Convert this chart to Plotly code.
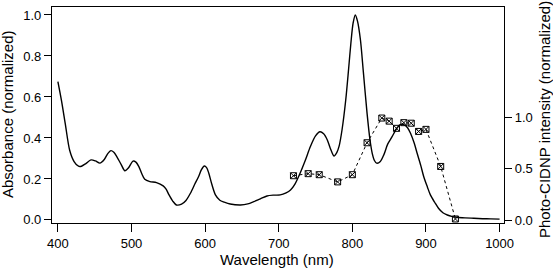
import plotly.graph_objects as go

# Absorbance spectrum (normalized)
abs_wl = [400, 405, 410, 416, 422, 428, 432, 438, 445, 451, 457, 463, 468, 472, 476, 480, 486, 491, 496, 502, 506, 510, 514, 518, 525, 534, 543, 547, 551, 556, 561, 568, 574, 580, 586, 591, 595, 599, 602, 605, 609, 614, 620, 626, 634, 648, 658, 666, 675, 684, 693, 702, 710, 716, 722, 729, 736, 743, 750, 756, 761, 766, 770, 775, 779, 782, 786, 791, 795, 798, 801, 804, 807, 811, 815, 820, 824, 827, 830, 833, 838, 843, 848, 854, 860, 865, 870, 875, 879, 884, 888, 893, 897, 902, 906, 912, 917, 923, 929, 935, 942, 953, 965, 977, 988, 1000]
abs_val = [0.675, 0.58, 0.47, 0.34, 0.285, 0.262, 0.262, 0.275, 0.293, 0.288, 0.277, 0.295, 0.325, 0.338, 0.33, 0.309, 0.27, 0.24, 0.255, 0.287, 0.282, 0.26, 0.225, 0.198, 0.187, 0.182, 0.166, 0.15, 0.122, 0.092, 0.073, 0.077, 0.095, 0.13, 0.175, 0.211, 0.245, 0.263, 0.255, 0.228, 0.175, 0.122, 0.096, 0.087, 0.078, 0.073, 0.078, 0.089, 0.103, 0.117, 0.121, 0.122, 0.132, 0.146, 0.175, 0.228, 0.29, 0.358, 0.41, 0.43, 0.42, 0.39, 0.35, 0.312, 0.33, 0.36, 0.44, 0.585, 0.74, 0.862, 0.96, 1.0, 0.97, 0.878, 0.72, 0.52, 0.39, 0.325, 0.29, 0.277, 0.285, 0.32, 0.37, 0.406, 0.445, 0.465, 0.465, 0.45, 0.423, 0.375, 0.325, 0.265, 0.211, 0.16, 0.122, 0.085, 0.057, 0.035, 0.024, 0.017, 0.013, 0.01, 0.008, 0.006, 0.005, 0.004]

# Photo-CIDNP intensity (normalized)
cidnp_wl = [720, 740, 755, 780, 800, 820, 840, 850, 860, 870, 880, 890, 900, 920, 940]
cidnp_val = [0.43, 0.45, 0.44, 0.37, 0.44, 0.75, 0.99, 0.96, 0.89, 0.945, 0.94, 0.86, 0.88, 0.52, 0.01]

x_ticks = [400, 500, 600, 700, 800, 900, 1000]
y_ticks = [0.0, 0.2, 0.4, 0.6, 0.8, 1.0]
y2_ticks = [0.0, 0.5, 1.0]

fig = go.Figure()
fig.add_trace(go.Scatter(
    x=abs_wl, y=abs_val, mode="lines",
    line=dict(color="black", width=1.4, shape="spline", smoothing=0.8),
    showlegend=False,
))
fig.add_trace(go.Scatter(
    x=cidnp_wl, y=cidnp_val, mode="lines+markers", yaxis="y2",
    line=dict(color="black", width=1, dash="dot"),
    marker=dict(symbol="square-x-open", size=6, color="black", line=dict(width=1)),
    showlegend=False,
))

font = dict(family="Liberation Sans, Arial, sans-serif", size=13, color="black")
axis_common = dict(ticks="outside", tickwidth=1, tickcolor="black",
                   showline=True, linecolor="black", linewidth=1.2,
                   showgrid=False, zeroline=False, automargin=False)
fig.update_layout(
    width=553, height=269,
    margin=dict(l=52, r=49, t=7, b=46),
    paper_bgcolor="white", plot_bgcolor="white",
    font=font,
    xaxis=dict(range=[392, 1006], tickvals=x_ticks, ticktext=[str(v) for v in x_ticks],
               ticklen=8, mirror=True, **axis_common),
    yaxis=dict(range=[-0.015, 1.039], tickvals=y_ticks, ticktext=["%.1f" % v for v in y_ticks],
               ticklen=7, mirror=True, **axis_common),
    yaxis2=dict(overlaying="y", side="right",
                range=[-0.029, 2.068], tickvals=y2_ticks, ticktext=["%.1f" % v for v in y2_ticks],
                ticklen=7, **axis_common),
    annotations=[
        dict(text="Wavelength (nm)", xref="paper", yref="paper", x=0.497, y=-0.171,
             xanchor="center", yanchor="middle", showarrow=False, font=dict(size=15)),
        dict(text="Absorbance (normalized)", xref="paper", yref="paper", x=-0.097, y=0.505,
             xanchor="center", yanchor="middle", textangle=-90, showarrow=False, font=dict(size=15)),
        dict(text="Photo-CIDNP intensity (normalized)", xref="paper", yref="paper", x=1.091, y=0.477,
             xanchor="center", yanchor="middle", textangle=-90, showarrow=False, font=dict(size=15)),
    ],
)

fig.write_html("out.html", config={"displayModeBar": False},
               post_script="document.body.style.margin='0px';")
